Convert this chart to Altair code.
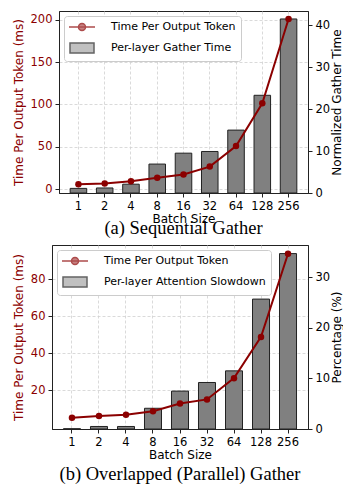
import altair as alt
import pandas as pd

batch = ["1", "2", "4", "8", "16", "32", "64", "128", "256"]
tpot_a = [5.8, 6.6, 9.2, 13.5, 17.3, 26.6, 50.9, 101.3, 201.0]
gather_a = [1.1, 1.2, 2.1, 6.9, 9.5, 9.9, 15.0, 23.3, 41.5]
tpot_b = [5.2, 6.1, 6.8, 8.7, 12.9, 15.1, 26.6, 48.9, 93.9]
slow_b = [0.05, 0.5, 0.5, 4.1, 7.5, 9.2, 11.5, 25.7, 34.7]

TPOT = "Time Per Output Token"
RED = "#8b0000"
GRAY = "#808080"
FONT = "DejaVu Sans"
LINE_PATH = "M-2.6,0L2.6,0M-0.7,0A0.7,0.7,0,1,1,0.7,0A0.7,0.7,0,1,1,-0.7,0Z"
RECT_PATH = "M-2.4,-1L2.4,-1L2.4,1L-2.4,1Z"
IND = dict(fill="independent", stroke="independent", shape="independent")


def panel(tpot, bars, bar_name, left_dom, left_ticks, right_dom, right_ticks,
          right_title, caption, cap_offset, w, h):
    df = pd.DataFrame({"batch": batch, "tpot": tpot, "bar": bars,
                       "series": [bar_name] * len(batch)})
    x = alt.X("batch:O", sort=batch,
              scale=alt.Scale(paddingInner=0, paddingOuter=0.24),
              axis=alt.Axis(title="Batch Size", labelAngle=0, bandPosition=0.5,
                            grid=True, gridDash=[3, 2], gridColor="#d0d0d0",
                            gridWidth=0.8, titlePadding=2))
    base = alt.Chart(df).encode(x=x)
    bar_layer = base.mark_bar(fill=GRAY, stroke="#222222", strokeWidth=1,
                              width=alt.RelativeBandSize(0.63)).encode(
        y=alt.Y("bar:Q", scale=alt.Scale(domain=right_dom, nice=False, zero=False),
                axis=alt.Axis(orient="right", values=right_ticks, title=right_title,
                              titleAngle=270, titleBaseline="top", grid=False,
                              titlePadding=1.5))
    )
    yl = alt.Y("tpot:Q", scale=alt.Scale(domain=left_dom, nice=False, zero=False),
               axis=alt.Axis(orient="left", values=left_ticks,
                             title="Time Per Output Token (ms)", titleColor=RED,
                             labelColor=RED, grid=True, gridDash=[3, 2],
                             gridColor="#d0d0d0", gridWidth=0.8, titlePadding=5))
    line = base.mark_line(color=RED, strokeWidth=2).encode(y=yl)
    pts = base.mark_circle(color=RED, size=42, opacity=1).encode(y=yl)
    dom = [TPOT, bar_name]
    leg = alt.Legend(title=None, orient="top-left", offset=5, padding=5,
                     strokeColor="#cccccc", fillColor="white", cornerRadius=3,
                     labelFont=FONT, labelFontSize=11, labelColor="black",
                     labelLimit=300, symbolSize=100, symbolStrokeWidth=1.5,
                     symbolOffset=7, labelOffset=23, rowPadding=6)
    helper = alt.Chart(df).transform_filter("false").mark_point(filled=True).encode(
        fill=alt.Fill("series:N", scale=alt.Scale(domain=dom, range=[RED, GRAY]), legend=leg),
        stroke=alt.Stroke("series:N", scale=alt.Scale(domain=dom, range=[RED, "#222222"]), legend=leg),
        shape=alt.Shape("series:N", scale=alt.Scale(domain=dom, range=[LINE_PATH, RECT_PATH]), legend=leg),
    )
    return alt.layer(bar_layer, alt.layer(line, pts), helper).resolve_scale(
        y="independent").properties(
        width=w, height=h,
        title=alt.TitleParams(caption, orient="bottom", font="Liberation Serif",
                              fontSize=18.5, fontWeight="normal", anchor="middle",
                              frame="group", offset=cap_offset, color="black"))


pa = panel(tpot_a, gather_a, "Per-layer Gather Time", [-4.6, 210.4],
           [0, 50, 100, 150, 200], [0, 43.4], [0, 10, 20, 30, 40],
           "Normalized Gather Time", "(a) Sequential Gather", -6, 249, 182)
pb = panel(tpot_b, slow_b, "Per-layer Attention Slowdown", [-0.9, 98.6],
           [20, 40, 60, 80], [0, 36.4], [0, 10, 20, 30],
           "Percentage (%)", "(b) Overlapped (Parallel) Gather", 4, 256, 184)

# empty spacer shifts panel (a) 7px right of panel (b)
spacer = alt.Chart(pd.DataFrame({"v": [0]})).mark_point(opacity=0).properties(
    width=7, height=1, view=alt.ViewBackground(strokeWidth=0))
row_a = alt.HConcatChart(hconcat=[spacer, pa], spacing=0, bounds="flush").resolve_scale(**IND)

chart = alt.ConcatChart(concat=[row_a, pb], columns=1, align="none", spacing=6).resolve_scale(
    **IND).properties(
    padding={"left": 3, "top": 0, "right": 0, "bottom": 0}
).configure_view(stroke="#222222", strokeWidth=1).configure_axis(
    domainColor="#222222", tickColor="#222222", labelFont=FONT, titleFont=FONT,
    labelFontSize=11.5, titleFontSize=12, titleFontWeight="normal", tickSize=4,
    labelPadding=3, labelColor="black", titleColor="black",
    domainWidth=1, tickWidth=1
)

chart.save("out.html", embed_options={"renderer": "svg", "actions": False})
